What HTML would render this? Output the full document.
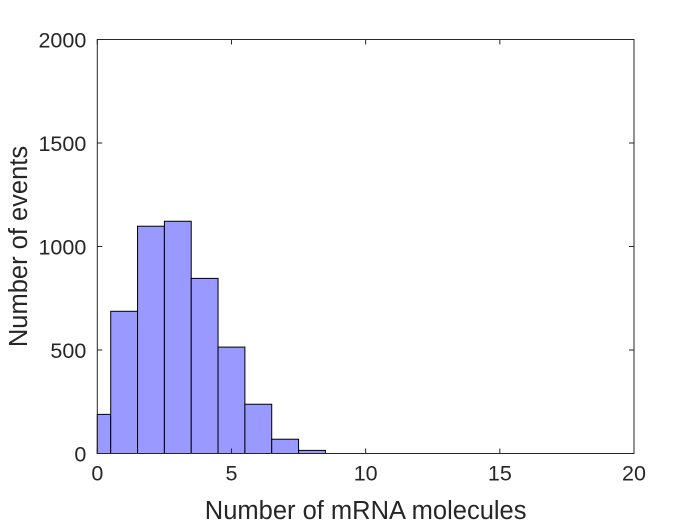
<!DOCTYPE html>
<html><head><meta charset="utf-8"><style>
body{margin:0;background:#fff;}
svg text{font-family:"Liberation Sans",sans-serif;fill:#262626;}
</style></head><body>
<svg id="chart" width="700" height="525" viewBox="0 0 700 525">
<rect x="0" y="0" width="700" height="525" fill="#fff"/>
<g id="bars"></g>
<g id="axes"></g>
</svg>
<script>
const binCenters=[0,1,2,3,4,5,6,7,8];
const counts=[189,687,1098,1122,846,514,238,69,15];
const xTicks=[0,5,10,15,20];
const yTicks=[0,500,1000,1500,2000];
const L=97.3,R=634,T=39.5,B=453.5;
const xMin=0,xMax=20,yMin=0,yMax=2000;
function sx(v){return L+(v-xMin)/(xMax-xMin)*(R-L);}
function sy(v){return B-(v-yMin)/(yMax-yMin)*(B-T);}
const NS="http://www.w3.org/2000/svg";
const bars=document.getElementById('bars'),axes=document.getElementById('axes');
function mk(tag,attrs,parent){const e=document.createElementNS(NS,tag);for(const k in attrs)e.setAttribute(k,attrs[k]);parent.appendChild(e);return e;}
binCenters.forEach((c,i)=>{
  const x0=Math.max(sx(c-0.5),sx(xMin)),x1=sx(c+0.5);
  const r=mk('rect',{x:x0,y:sy(counts[i]),width:x1-x0,height:sy(0)-sy(counts[i]),fill:'#9999ff',stroke:'#000','stroke-width':1},bars);
  
  
});
const box=mk('rect',{x:L,y:T,width:R-L,height:B-T,fill:'none',stroke:'#262626','stroke-width':1},axes);


xTicks.forEach(t=>{
  const x=sx(t);
  mk('line',{x1:x,y1:B,x2:x,y2:B-5,stroke:'#262626'},axes);
  mk('line',{x1:x,y1:T,x2:x,y2:T+5,stroke:'#262626'},axes);
  const tx=mk('text',{x:x,y:B+27,'text-anchor':'middle','font-size':21.5},axes);
  tx.textContent=t;
  
  
});
yTicks.forEach(t=>{
  const y=sy(t);
  mk('line',{x1:L,y1:y,x2:L+5,y2:y,stroke:'#262626'},axes);
  mk('line',{x1:R,y1:y,x2:R-5,y2:y,stroke:'#262626'},axes);
  const tx=mk('text',{x:L-11,y:y+8,'text-anchor':'end','font-size':21.5},axes);
  tx.textContent=t;
  
  
});
const xl=mk('text',{x:(L+R)/2,y:519,'text-anchor':'middle','font-size':25.5},axes);
xl.textContent='Number of mRNA molecules';


const yl=mk('text',{x:0,y:0,'text-anchor':'middle','font-size':25.5,transform:'translate(27,'+((T+B)/2)+') rotate(-90)'},axes);
yl.textContent='Number of events';


</script>
</body></html>
